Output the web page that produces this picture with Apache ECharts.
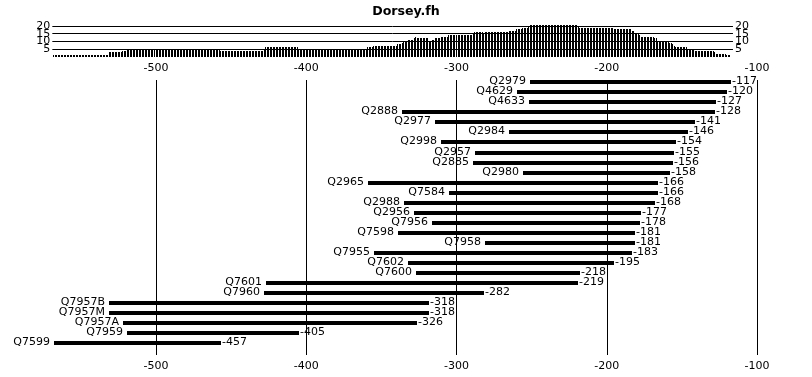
<!DOCTYPE html>
<html>
<head>
<meta charset="utf-8">
<script src="https://cdn.jsdelivr.net/npm/echarts@6/dist/echarts.min.js"></script>
<style>html,body{margin:0;padding:0;background:#fff;}#c{width:812px;height:377px;}</style>
</head>
<body>
<div id="c"></div>
<script>
const categories = ['Q2979','Q4629','Q4633','Q2888','Q2977','Q2984','Q2998','Q2957','Q2885','Q2980','Q2965','Q7584','Q2988','Q2956','Q7956','Q7598','Q7958','Q7955','Q7602','Q7600','Q7601','Q7960','Q7957B','Q7957M','Q7957A','Q7959','Q7599'];
const starts = [-251,-260,-252,-336,-314,-265,-310,-288,-289,-256,-359,-305,-335,-328,-316,-339,-281,-355,-332,-327,-427,-428,-531,-531,-522,-519,-568];
const ends = [-117,-120,-127,-128,-141,-146,-154,-155,-156,-158,-166,-166,-168,-177,-178,-181,-181,-183,-195,-218,-219,-282,-318,-318,-326,-405,-457];

// top histogram: step levels (step start value, count)
const histFrom = [-568,-531,-522,-519,-457,-428,-427,-405,-359,-355,-339,-336,-335,-332,-328,-327,-326,-318,-316,-314,-310,-305,-289,-288,-282,-281,-265,-260,-256,-252,-251,-219,-218,-195,-183,-181,-178,-177,-168,-166,-158,-156,-155,-154,-146,-141,-128,-127,-120];
const histCount = [1,3,4,5,4,5,6,5,6,7,8,9,10,11,12,13,12,10,11,12,13,14,15,16,15,16,17,18,19,20,21,20,19,18,17,15,14,13,12,10,9,8,7,6,5,4,3,2,1];
const histEnd = -117;
const xTicks = [-500,-400,-300,-200,-100];
const yTicks = [5,10,15,20];

const FONT = 'DejaVu Sans';
const histData = [];
for (let i = 0; i < histFrom.length; i++) {
  const to = i + 1 < histFrom.length ? histFrom[i + 1] : histEnd;
  for (let v = histFrom[i]; v < to; v++) histData.push([v, histCount[i]]);
}
const rangeData = categories.map((c, i) => [i, starts[i], ends[i]]);

const chart = echarts.init(document.getElementById('c'), null, {renderer: 'canvas'});
const xLabel = {
  show: true, color: '#000', fontFamily: FONT, fontSize: 11,
  showMinLabel: false, showMaxLabel: false,
  formatter: v => xTicks.indexOf(v) >= 0 ? String(v) : ''
};
const yLabelFmt = v => yTicks.indexOf(v) >= 0 ? String(v) : '';
chart.setOption({
  animation: false,
  backgroundColor: '#fff',
  title: {
    text: 'Dorsey.fh', left: 'center', top: 0,
    textStyle: {fontFamily: FONT, fontWeight: 'bold', fontSize: 12.6, color: '#000'}
  },
  grid: [
    {left: 5.75, right: 9.9, top: 80, bottom: 22},
    {left: 52.33, right: 79.04, top: 24.5, bottom: 320.3}
  ],
  xAxis: [
    {gridIndex: 0, type: 'value', position: 'top', min: -600, max: -70, interval: 100,
     axisLine: {show: false}, axisTick: {show: false},
     axisLabel: Object.assign({margin: 6}, xLabel),
     splitLine: {show: true, showMinLine: false, showMaxLine: false, lineStyle: {color: '#000', width: 1}}},
    {gridIndex: 0, type: 'value', position: 'bottom', min: -600, max: -70, interval: 100,
     axisLine: {show: false}, axisTick: {show: false},
     axisLabel: Object.assign({margin: 6}, xLabel),
     splitLine: {show: false}},
    {gridIndex: 1, type: 'value', min: -569, max: -116, show: false,
     splitLine: {show: false}}
  ],
  yAxis: [
    {gridIndex: 0, type: 'value', inverse: true, min: -0.23, max: 27.19, show: false, splitLine: {show: false}},
    {gridIndex: 1, type: 'value', position: 'left', min: 0, max: 21, interval: 5,
     axisLine: {show: false}, axisTick: {show: false},
     axisLabel: {color: '#000', fontFamily: FONT, fontSize: 11, margin: 2, showMinLabel: false, showMaxLabel: false, formatter: yLabelFmt},
     splitLine: {show: true, showMinLine: false, showMaxLine: false, lineStyle: {color: '#000', width: 1}}},
    {gridIndex: 1, type: 'value', position: 'right', min: 0, max: 21, interval: 5,
     axisLine: {show: false}, axisTick: {show: false},
     axisLabel: {color: '#000', fontFamily: FONT, fontSize: 11, margin: 2, showMinLabel: false, showMaxLabel: false, formatter: yLabelFmt},
     splitLine: {show: false}}
  ],
  series: [
    {
      type: 'custom', xAxisIndex: 2, yAxisIndex: 1, data: histData,
      encode: {x: 0, y: 1}, silent: true, clip: false,
      renderItem: function (params, api) {
        const top = api.coord([api.value(0), api.value(1)]);
        const base = api.coord([api.value(0), 0]);
        const x = Math.round(top[0] - 0.5);
        const y0 = Math.round(top[1]);
        const y1 = Math.round(base[1]);
        return {type: 'rect', shape: {x: x, y: y0, width: 1, height: y1 - y0}, style: {fill: '#000'}};
      }
    },
    {
      type: 'custom', xAxisIndex: 0, yAxisIndex: 0, data: rangeData,
      encode: {x: [1, 2], y: 0}, clip: false,
      renderItem: function (params, api) {
        const i = api.value(0);
        const p1 = api.coord([api.value(1), i]);
        const p2 = api.coord([api.value(2), i]);
        const x1 = Math.round(p1[0]), x2 = Math.round(p2[0]);
        const yc = Math.round(p1[1]);
        return {
          type: 'group',
          children: [
            {type: 'rect', shape: {x: x1, y: yc - 2, width: x2 - x1, height: 4}, style: {fill: '#000'}},
            {type: 'text', x: x1 - 4, y: yc - 0.5, style: {text: categories[params.dataIndex], textAlign: 'right', textVerticalAlign: 'middle', fontFamily: FONT, fontSize: 11, fill: '#000'}},
            {type: 'text', x: x2 + 1, y: yc - 0.5, style: {text: String(ends[params.dataIndex]), textAlign: 'left', textVerticalAlign: 'middle', fontFamily: FONT, fontSize: 11, fill: '#000'}}
          ]
        };
      }
    }
  ]
});
</script>
</body>
</html>
